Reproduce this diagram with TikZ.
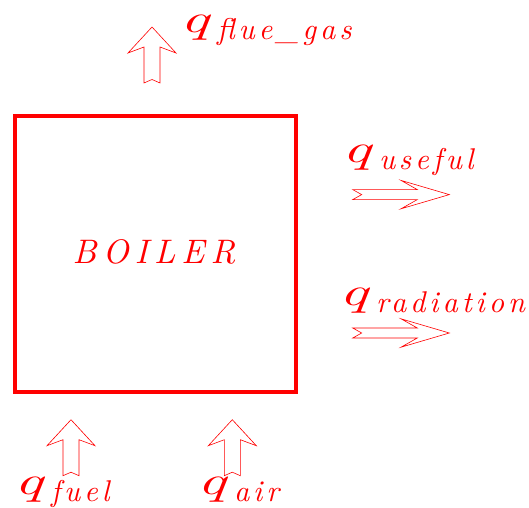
\documentclass[tikz,border=0pt]{standalone}
\usepackage{fontspec}
\usepackage{graphicx}
\newfontfamily\lblfont[LetterSpace=13]{lmroman10-italic.otf}
\newfontfamily\titlefont[LetterSpace=18]{lmroman10-italic.otf}
\newcommand\flowq[1]{\raisebox{7pt}{\scalebox{1.6}[1]{\fontsize{40}{40}\selectfont\itshape q}}\kern8pt{\fontsize{30}{30}\lblfont #1}}

\tikzset{
  flowlabel/.style={anchor=base west,inner sep=0pt,text=red},
  upflow/.pic={
    \draw[red,line width=0.6pt] (-8,0) -- (0,3.5) -- (8,0) -- (8,36) -- (24,30)
      -- (0,56) -- (-24,30) -- (-8,36) -- cycle;
  },
  rightflow/.pic={
    \draw[red,line width=0.6pt] (0,5) -- (64.6,5) -- (48.3,14.2) -- (96.6,0)
      -- (48.3,-14.2) -- (64.6,-5) -- (0,-5) -- (9,0) -- cycle;
  }
}

\begin{document}
\begin{tikzpicture}[x=1pt,y=1pt]
  \useasboundingbox (0,0) rectangle (529,507);

  % the boiler
  \node[draw=red,line width=3.8pt,minimum width=281pt,minimum height=276pt,inner sep=0pt]
    (boiler) at (155.5,253) {};
  \node[text=red,inner sep=0pt] (title) at (154,255)
    {\fontsize{34}{34}\titlefont BOILER};

  % flows in and out
  \pic at (152,424) {upflow};
  \pic at (71,31.3) {upflow};
  \pic at (232.3,31.3) {upflow};
  \pic at (352.7,312.4) {rightflow};
  \pic at (352.7,174) {rightflow};

  \node[flowlabel] (flue) at (180,467) {\flowq{flue\_gas}};
  \node[flowlabel] (useful) at (342,338) {\flowq{useful}};
  \node[flowlabel] (radiation) at (339,195) {\flowq{radiation}};
  \node[flowlabel] (fuel) at (14,6) {\flowq{fuel}};
  \node[flowlabel] (air) at (197,6) {\flowq{air}};
\end{tikzpicture}
\end{document}
